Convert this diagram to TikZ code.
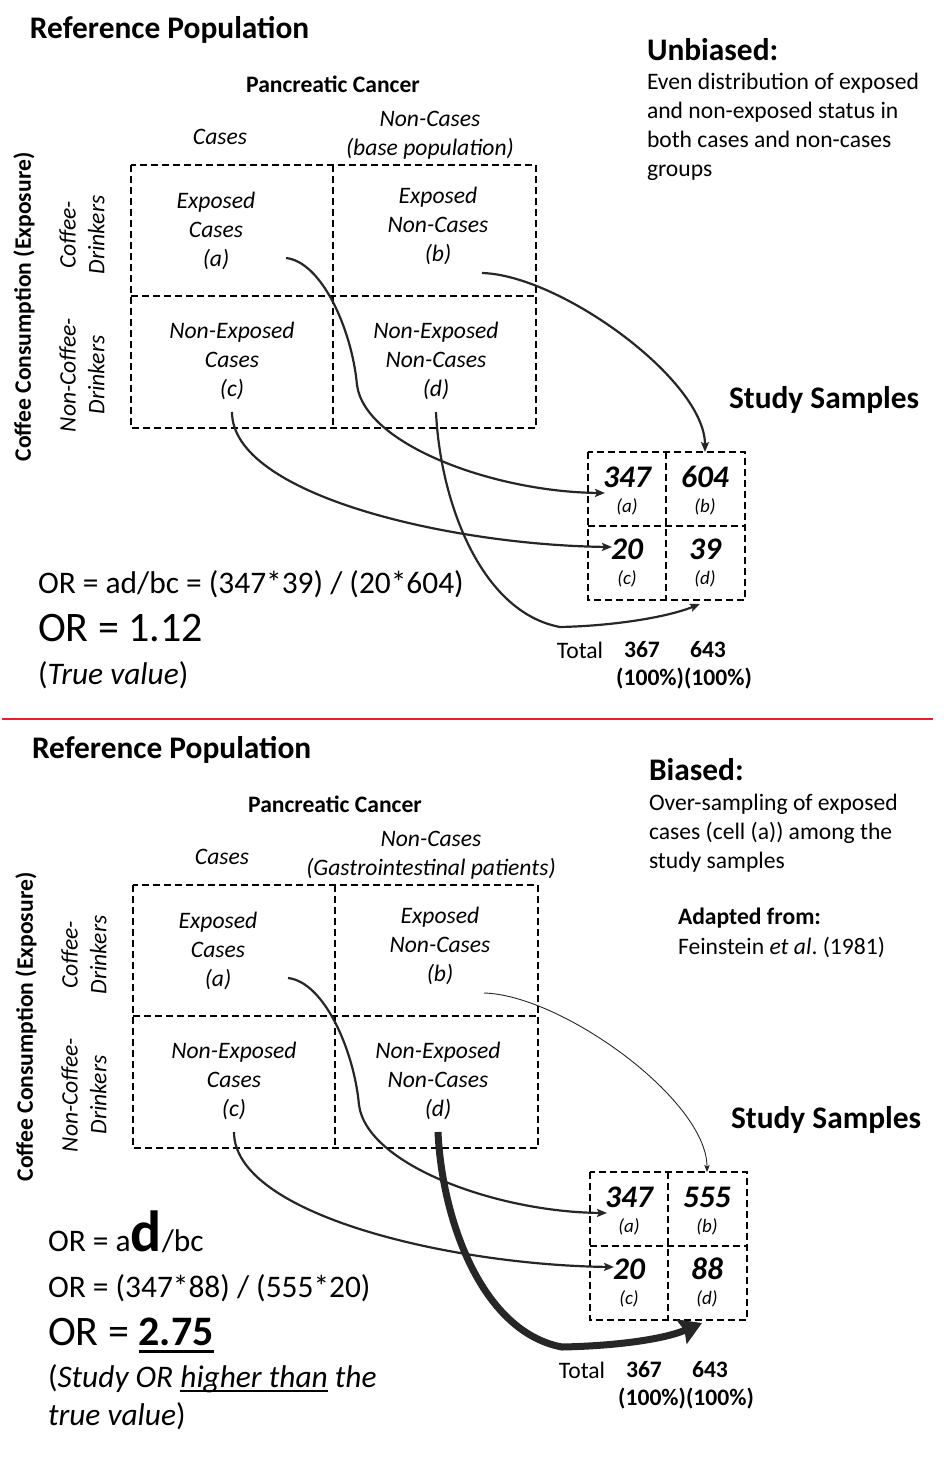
\documentclass[tikz,border=0pt]{standalone}
\usepackage{fontspec}
\setmainfont{Carlito}
\usetikzlibrary{arrows.meta,calc}
\frenchspacing
\newcommand\szS{\fontsize{19}{23}\selectfont}
\newcommand\szM{\fontsize{23.6}{28.8}\selectfont}
\newcommand\szL{\fontsize{31.4}{38}\selectfont}
\newcommand\szX{\fontsize{42}{50}\selectfont}
\newcommand\myul[3]{\leavevmode\setbox0\hbox{#3}\rlap{\rule[-#1]{\wd0}{#2}}\copy0\relax}
\definecolor{arrowgray}{HTML}{262626}
\definecolor{sepred}{HTML}{EE1C25}
\begin{document}
\begin{tikzpicture}[x=1pt,y=-1pt,
  every node/.style={inner sep=0pt,outer sep=0pt,text=black},
  ttl/.style={font=\szL\bfseries,anchor=west},
  cell/.style={font=\szM\itshape,align=center},
  num/.style={font=\szL\bfseries\itshape},
  lab/.style={font=\szS\itshape},
  grid/.style={draw=black,line width=2.2pt,dash pattern=on 7pt off 4pt},
  conn/.style={draw=arrowgray,line width=2.2pt,-{Stealth[length=10pt,width=8pt,inset=2pt]}},
  thinconn/.style={draw=arrowgray,line width=0.9pt,-{Stealth[length=7pt,width=5.5pt,inset=1.5pt]}},
  thickconn/.style={draw=arrowgray,line width=7pt,-{Stealth[length=22pt,width=26pt,inset=3pt]}}]
\useasboundingbox (0,0) rectangle (948,1476);

% ================= TOP PANEL =================
\node[ttl] (t-title) at (30,30) {Reference Population};
\node[ttl] (t-unb) at (647,50) {Unbiased:};
\node[font=\szM,anchor=west,align=left] (t-unbtxt) at (647,127) {Even distribution of exposed\\and non-exposed status in\\both cases and non-cases\\groups};
\node[font=\szM\bfseries] (t-pc) at (333,84) {Pancreatic Cancer};
\node[font=\szM\itshape] (t-cases) at (220,137) {Cases};
\node[cell] (t-nc) at (430,135) {Non-Cases\\(base population)};
\node[cell] (t-ca) at (216,231) {Exposed\\Cases\\(a)};
\node[cell] (t-cb) at (438,226) {Exposed\\Non-Cases\\(b)};
\node[cell] (t-cc) at (232,361) {Non-Exposed\\Cases\\(c)};
\node[cell] (t-cd) at (436,361) {Non-Exposed\\Non-Cases\\(d)};
\draw[grid] (131,165) rectangle (536,428);
\draw[grid] (333,165) -- (333,428);
\draw[grid] (131,296) -- (536,296);
\node[font=\szM\bfseries,rotate=90] (t-cce) at (24,307) {Coffee Consumption (Exposure)};
\node[cell,rotate=90] (t-cdr) at (82,235) {Coffee-\\Drinkers};
\node[cell,rotate=90] (t-ncdr) at (82,375) {Non-Coffee-\\Drinkers};
\node[ttl] (t-ss) at (729,400) {Study Samples};
\draw[grid] (588,452) rectangle (745,600);
\draw[grid] (666,452) -- (666,600);
\draw[grid] (588,526) -- (745,526);
\node[num] (t-n1) at (627,477) {347};
\node[lab] (t-l1) at (627,507) {(a)};
\node[num] (t-n2) at (705,477) {604};
\node[lab] (t-l2) at (705,507) {(b)};
\node[num] (t-n3) at (627,549) {20};
\node[lab] (t-l3) at (627,579) {(c)};
\node[num] (t-n4) at (705,549) {39};
\node[lab] (t-l4) at (705,579) {(d)};
\node[font=\szM] (t-tot) at (580,650) {Total};
\node[font=\szM\bfseries] (t-t1) at (642,650) {367};
\node[font=\szM\bfseries] (t-t2) at (708,650) {643};
\node[font=\szM\bfseries] (t-pct) at (684,679) {(100\%)(100\%)};
\node[font=\szL,anchor=base west] (t-or1) at (38,593) {OR = ad/bc = (347*39) / (20*604)};
\node[font=\szX,anchor=base west] (t-or2) at (38,641) {OR = 1.12};
\node[font=\szL,anchor=base west] (t-or3) at (38,684) {(\textit{True value})};
% connectors
\coordinate (t-sa) at (286,258);
\coordinate (t-sb) at (482,273);
\coordinate (t-sc) at (232,412);
\coordinate (t-sd) at (436,412);
\coordinate (t-ea) at (605,493);
\coordinate (t-eb) at (705,452);
\coordinate (t-ec) at (612,547);
\coordinate (t-ed) at (700,604);
\draw[conn] (t-sa) .. controls (322,262) and (352,330) .. (357,385) .. controls (365,445) and (495,492) .. (t-ea);
\draw[conn] (t-sb) .. controls (560,275) and (705,380) .. (t-eb);
\draw[conn] (t-sc) .. controls (232,495) and (450,545) .. (t-ec);
\draw[conn] (t-sd) .. controls (440,500) and (480,612) .. (560,627) .. controls (610,626) and (665,618) .. (t-ed);

% separator
\draw[sepred,line width=1.6pt] (2,719) -- (933,719);

% ================= BOTTOM PANEL =================
\begin{scope}[shift={(2,720)}]
\node[ttl] (b-title) at (30,30) {Reference Population};
\node[ttl] (b-bia) at (647,50) {Biased:};
\node[font=\szM,anchor=west,align=left] (b-biatxt) at (647,113) {Over-sampling of exposed\\cases (cell (a)) among the\\study samples};
\node[font=\szM\bfseries,anchor=west] (b-adf) at (676,198) {Adapted from:};
\node[font=\szM,anchor=west] (b-fei) at (676,227) {Feinstein \textit{et al}. (1981)};
\node[font=\szM\bfseries] (b-pc) at (333,84) {Pancreatic Cancer};
\node[font=\szM\itshape] (b-cases) at (220,137) {Cases};
\node[cell] (b-nc) at (429,135) {Non-Cases\\(Gastrointestinal patients)};
\node[cell] (b-ca) at (216,231) {Exposed\\Cases\\(a)};
\node[cell] (b-cb) at (438,226) {Exposed\\Non-Cases\\(b)};
\node[cell] (b-cc) at (232,361) {Non-Exposed\\Cases\\(c)};
\node[cell] (b-cd) at (436,361) {Non-Exposed\\Non-Cases\\(d)};
\draw[grid] (131,165) rectangle (536,428);
\draw[grid] (333,165) -- (333,428);
\draw[grid] (131,296) -- (536,296);
\node[font=\szM\bfseries,rotate=90] (b-cce) at (24,307) {Coffee Consumption (Exposure)};
\node[cell,rotate=90] (b-cdr) at (82,235) {Coffee-\\Drinkers};
\node[cell,rotate=90] (b-ncdr) at (82,375) {Non-Coffee-\\Drinkers};
\node[ttl] (b-ss) at (729,400) {Study Samples};
\draw[grid] (588,452) rectangle (745,600);
\draw[grid] (666,452) -- (666,600);
\draw[grid] (588,526) -- (745,526);
\node[num] (b-n1) at (627,477) {347};
\node[lab] (b-l1) at (627,507) {(a)};
\node[num] (b-n2) at (705,477) {555};
\node[lab] (b-l2) at (705,507) {(b)};
\node[num] (b-n3) at (627,549) {20};
\node[lab] (b-l3) at (627,579) {(c)};
\node[num] (b-n4) at (705,549) {88};
\node[lab] (b-l4) at (705,579) {(d)};
\node[font=\szM] (b-tot) at (580,650) {Total};
\node[font=\szM\bfseries] (b-t1) at (642,650) {367};
\node[font=\szM\bfseries] (b-t2) at (708,650) {643};
\node[font=\szM\bfseries] (b-pct) at (684,679) {(100\%)(100\%)};
\node[font=\szL,anchor=base west] (b-or1) at (46,531) {OR = a{\fontsize{58}{60}\selectfont\bfseries d}/bc};
\node[font=\szL,anchor=base west] (b-or2) at (46,577) {OR = (347*88) / (555*20)};
\node[font=\szX,anchor=base west] (b-or3) at (46,625) {OR = \myul{8pt}{3pt}{\bfseries 2.75}};
\node[font=\szL,anchor=base west] (b-or4) at (46,667) {(\textit{Study OR \myul{5pt}{1.8pt}{higher than} the}};
\node[font=\szL,anchor=base west] (b-or5) at (46,705) {\textit{true value})};
% connectors
\coordinate (b-sa) at (286,258);
\coordinate (b-sb) at (482,273);
\coordinate (b-sc) at (232,412);
\coordinate (b-sd) at (436,412);
\coordinate (b-ea) at (605,493);
\coordinate (b-eb) at (705,452);
\coordinate (b-ec) at (612,547);
\coordinate (b-ed) at (700,603);
\draw[conn] (b-sa) .. controls (322,262) and (352,330) .. (357,385) .. controls (365,445) and (495,492) .. (b-ea);
\draw[thinconn] (b-sb) .. controls (560,275) and (705,380) .. (b-eb);
\draw[conn] (b-sc) .. controls (232,495) and (450,545) .. (b-ec);
\draw[thickconn] (b-sd) .. controls (440,500) and (480,612) .. (560,627) .. controls (610,626) and (660,620) .. (b-ed);
\end{scope}
\end{tikzpicture}
\end{document}
